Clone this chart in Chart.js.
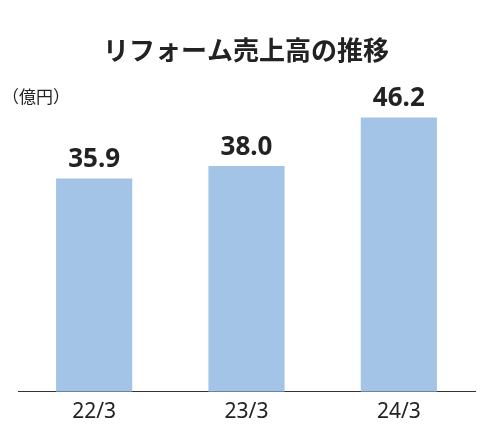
<!DOCTYPE html>
<html>
<head>
<script src="https://cdn.jsdelivr.net/npm/chart.js"></script>
<style>body{margin:0;background:#fff}</style>
</head>
<body>
<canvas id="c" width="492" height="425"></canvas>
<script>
  const categories = ['22/3', '23/3', '24/3'];
  const sales = [35.9, 38.0, 46.2];
  const titleText = 'リフォーム売上高の推移';
  const unitText = '（億円）';

  // 題名・単位・数値ラベルを描く
  const textPlugin = {
    id: 'texts',
    afterDatasetsDraw(chart) {
      const ctx = chart.ctx;
      ctx.save();
      ctx.fillStyle = '#222';
      ctx.textAlign = 'center';
      ctx.textBaseline = 'middle';
      ctx.font = 'bold 26px "Noto Sans CJK JP"';
      ctx.fillText(titleText, 246, 50);
      ctx.textAlign = 'left';
      ctx.font = '17px "Noto Sans CJK JP"';
      ctx.fillText(unitText, 2, 97);
      ctx.textAlign = 'center';
      ctx.textBaseline = 'bottom';
      ctx.font = 'bold 26px "Noto Sans"';
      chart.getDatasetMeta(0).data.forEach((bar, i) => {
        ctx.fillText(sales[i].toFixed(1), bar.x, bar.y - 6);
      });
      ctx.restore();
    }
  };

  new Chart(document.getElementById('c'), {
    type: 'bar',
    data: {
      labels: categories,
      datasets: [{ data: sales, backgroundColor: '#a3c4e6', barPercentage: 0.5, categoryPercentage: 1 }]
    },
    options: {
      responsive: false,
      animation: false,
      layout: { padding: { top: 80, left: 18, right: 17, bottom: 0 } },
      plugins: { legend: { display: false }, title: { display: false }, tooltip: { enabled: false } },
      scales: {
        y: { display: false, min: 0, max: 52.5 },
        x: {
          grid: { display: false },
          border: { color: '#333', width: 1 },
          ticks: { color: '#222', font: { size: 21, family: 'Noto Sans' }, padding: 0 }
        }
      }
    },
    plugins: [textPlugin]
  });
</script>
</body>
</html>
